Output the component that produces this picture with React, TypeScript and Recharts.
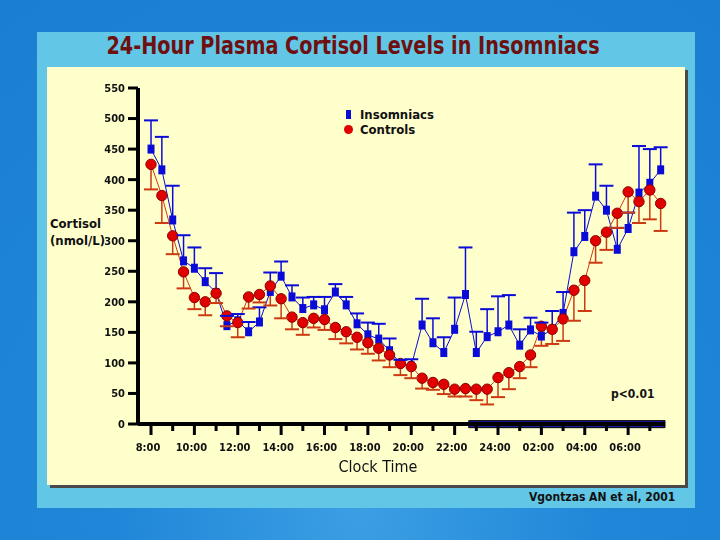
import React from 'react'
import { ComposedChart, Line, XAxis, YAxis, ErrorBar, ReferenceArea } from 'recharts'

// half-hourly samples, 8:00 -> 07:30
const insomniacs = [
  450, 416, 334, 267, 255, 233, 215, 161, 169, 151, 167, 217,
  242, 208, 189, 195, 187, 216, 195, 164, 146, 139, 120, 99,
  95, 162, 133, 117, 155, 212, 117, 143, 151, 162, 129, 154,
  144, 155, 181, 282, 307, 373, 350, 286, 320, 378, 394, 416,
]
const insomniacsSem = [
  47, 54, 56, 42, 34, 22, 32, 16, 11, 16, 24, 31,
  24, 19, 18, 13, 21, 13, 13, 17, 20, 25, 20, 6,
  11, 43, 40, 25, 52, 77, 34, 45, 58, 49, 26, 20,
  22, 30, 35, 64, 43, 52, 40, 35, 26, 77, 56, 37,
]
const controls = [
  425, 374, 308, 249, 207, 200, 214, 177, 166, 208, 212, 226,
  205, 175, 166, 173, 171, 158, 151, 142, 133, 124, 113, 99,
  94, 75, 68, 65, 57, 58, 57, 57, 76, 84, 94, 113,
  160, 155, 172, 219, 235, 300, 314, 345, 380, 364, 383, 361,
]
const controlsSem = [
  41, 45, 30, 27, 19, 22, 16, 17, 24, 19, 13, 32,
  32, 20, 20, 15, 17, 19, 19, 20, 18, 20, 20, 19,
  19, 17, 12, 16, 12, 13, 18, 25, 32, 27, 19, 20,
  32, 24, 36, 50, 50, 36, 29, 24, 34, 35, 48, 45,
]
const hourTicks = [0, 2, 4, 6, 8, 10, 12, 14, 16, 18, 20, 22, 24, 26, 28, 30, 32, 34, 36, 38, 40, 42, 44, 46]
const hourLabels = ['8:00', '10:00', '12:00', '14:00', '16:00', '18:00', '20:00', '22:00', '24:00', '02:00', '04:00', '06:00']
const yTicks = [0, 50, 100, 150, 200, 250, 300, 350, 400, 450, 500, 550]

const rows = insomniacs.map((v, i) => ({
  i,
  ins: v,
  insErr: [0, insomniacsSem[i]],
  insTop: v + insomniacsSem[i],
  ctl: controls[i],
  ctlErr: [controlsSem[i], 0],
  ctlBottom: controls[i] - controlsSem[i],
}))

const narrow = "'Liberation Sans Narrow', 'DejaVu Sans Condensed', Arial, sans-serif"
const BLUE = '#0b0bd8'
const RED = '#e00000'
const ORANGE = '#cc3a12'

const XTick = (props: any) => {
  const { x, y, payload } = props
  const major = payload.value % 4 === 0
  return (
    <g>
      <line x1={x} x2={x} y1={y} y2={y + (major ? 11 : 7)} stroke="#000" strokeWidth={3} />
      {major && (
        <text x={x - 3} y={y + 27} textAnchor="middle" fontFamily={narrow} fontWeight="bold" fontSize={11} fill="#111">
          {hourLabels[payload.value / 4]}
        </text>
      )}
    </g>
  )
}

const square = (p: any) => (
  <rect key={'s' + p.index} x={p.cx - 3.5} y={p.cy - 4.5} width={7} height={9} fill={BLUE} />
)
const circle = (p: any) => (
  <circle key={'c' + p.index} cx={p.cx} cy={p.cy} r={5.2} fill={RED} stroke="#8a0000" strokeWidth={1} />
)
const cap = (color: string) => (p: any) => (
  <line key={'k' + p.index} x1={p.cx - 7} x2={p.cx + 7} y1={p.cy} y2={p.cy} stroke={color} strokeWidth={2} />
)

const text = (size: number, bold = true): React.CSSProperties => ({
  fontFamily: narrow, fontWeight: bold ? 'bold' : 'normal', fontSize: size, color: '#111', whiteSpace: 'nowrap',
})

export default function App() {
  return (
    <div style={{ position: 'fixed', left: 0, top: 0, width: 720, height: 540, background: 'radial-gradient(circle at 50% 95%, #3c9fe4 0%, #1f86d8 40%, #1a7fd2 100%)', overflow: 'hidden' }}>
      <div style={{ position: 'absolute', left: 37, top: 32, width: 658, height: 476, background: '#62c7e6' }} />
      <div style={{ position: 'absolute', left: 47, top: 67, width: 638, height: 418, background: '#ffffcc', boxShadow: '3px 3px 0 #4a4a4a' }} />
      <div style={{ position: 'absolute', left: 0, top: 32, width: 706, textAlign: 'center' }}>
        <span style={{ ...text(24), color: '#6e1010', display: 'inline-block', transform: 'scaleX(0.89)' }}>
          24-Hour Plasma Cortisol Levels in Insomniacs
        </span>
      </div>
      <div style={{ position: 'absolute', left: 50, top: 215, ...text(13), lineHeight: '17px' }}>
        Cortisol<br />(nmol/L)
      </div>
      <div style={{ position: 'absolute', left: 346, top: 107, ...text(13), lineHeight: '15px' }}>
        <div style={{ display: 'flex', alignItems: 'center' }}>
          <span style={{ width: 5, height: 9, background: BLUE, display: 'inline-block', marginRight: 9 }} />
          Insomniacs
        </div>
        <div style={{ display: 'flex', alignItems: 'center' }}>
          <span style={{ width: 9, height: 9, borderRadius: 5, background: RED, display: 'inline-block', marginLeft: -2, marginRight: 7 }} />
          Controls
        </div>
      </div>
      <div style={{ position: 'absolute', left: 611, top: 387, ...text(12) }}>p&lt;0.01</div>
      <div style={{ position: 'absolute', left: 0, top: 457, width: 756, textAlign: 'center', ...text(16, false) }}>Clock Time</div>
      <div style={{ position: 'absolute', left: 529, top: 490, ...text(12) }}>Vgontzas AN et al, 2001</div>
      <div style={{ position: 'absolute', left: 0, top: 0 }}>
        <ComposedChart width={720} height={540} data={rows} margin={{ top: 88, right: 55, bottom: 86, left: 0 }}>
          <XAxis
            dataKey="i"
            type="number"
            domain={[-1.2, 47.4]}
            ticks={hourTicks}
            tick={<XTick />}
            tickLine={false}
            tickSize={0}
            tickMargin={0}
            height={30}
            axisLine={{ stroke: '#000', strokeWidth: 4 }}
            interval={0}
          />
          <YAxis
            type="number"
            domain={[0, 550]}
            ticks={yTicks}
            width={138}
            tickSize={10}
            tickMargin={3}
            interval={0}
            axisLine={{ stroke: '#000', strokeWidth: 4 }}
            tickLine={{ stroke: '#000', strokeWidth: 3 }}
            tick={{ fill: '#111', fontSize: 11, fontWeight: 'bold', fontFamily: narrow }}
          />
          <ReferenceArea x1={29.3} x2={47.4} y1={-6} y2={5.5} fill="#1b1ba6" fillOpacity={1} stroke="#000" strokeWidth={1} ifOverflow="visible" />
          <Line dataKey="ins" name="Insomniacs" stroke={BLUE} strokeWidth={1} dot={square} activeDot={false} isAnimationActive={false}>
            <ErrorBar dataKey="insErr" width={0} stroke={BLUE} strokeWidth={1.5} direction="y" isAnimationActive={false} />
          </Line>
          <Line dataKey="ctl" name="Controls" stroke={ORANGE} strokeWidth={1} dot={circle} activeDot={false} isAnimationActive={false}>
            <ErrorBar dataKey="ctlErr" width={0} stroke={ORANGE} strokeWidth={1.5} direction="y" isAnimationActive={false} />
          </Line>
          <Line dataKey="insTop" stroke="transparent" strokeWidth={0} dot={cap(BLUE)} activeDot={false} legendType="none" isAnimationActive={false} />
          <Line dataKey="ctlBottom" stroke="transparent" strokeWidth={0} dot={cap(ORANGE)} activeDot={false} legendType="none" isAnimationActive={false} />
        </ComposedChart>
      </div>
    </div>
  )
}
